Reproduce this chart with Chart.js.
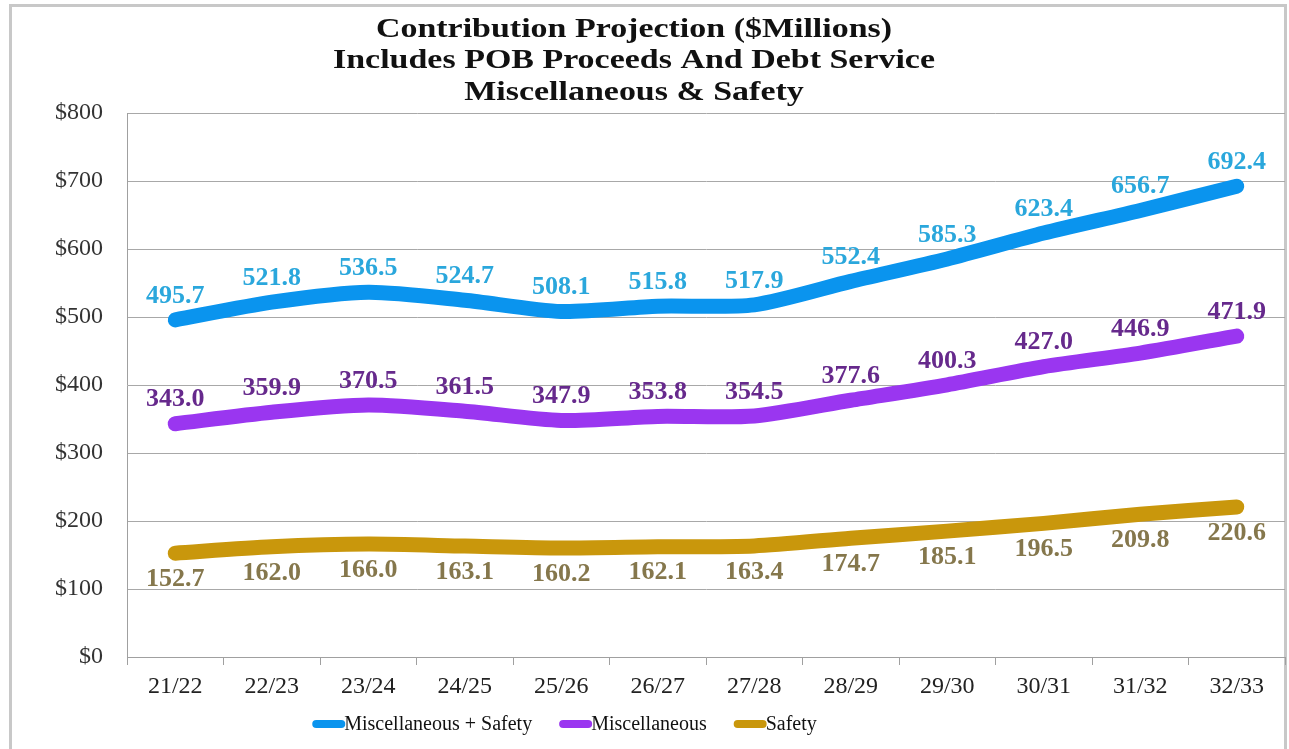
<!DOCTYPE html>
<html>
<head>
<meta charset="utf-8">
<script src="https://cdn.jsdelivr.net/npm/chart.js@4/dist/chart.umd.min.js"></script>
<style>
  html, body { margin: 0; padding: 0; background: #ffffff; }
  #wrap { position: absolute; left: 0; top: 0; width: 1289px; height: 749px; }
</style>
</head>
<body>
<div id="wrap"><canvas id="c" width="1289" height="749"></canvas></div>
<script>
const categories = ['21/22','22/23','23/24','24/25','25/26','26/27','27/28','28/29','29/30','30/31','31/32','32/33'];
const miscPlusSafety = [495.7, 521.8, 536.5, 524.7, 508.1, 515.8, 517.9, 552.4, 585.3, 623.4, 656.7, 692.4];
const miscellaneous  = [343.0, 359.9, 370.5, 361.5, 347.9, 353.8, 354.5, 377.6, 400.3, 427.0, 446.9, 471.9];
const safety         = [152.7, 162.0, 166.0, 163.1, 160.2, 162.1, 163.4, 174.7, 185.1, 196.5, 209.8, 220.6];
const seriesNames = ['Miscellaneous + Safety', 'Miscellaneous', 'Safety'];
const titleLines = ['Contribution Projection ($Millions)', 'Includes POB Proceeds And Debt Service', 'Miscellaneous & Safety'];
const yTickValues = [0, 100, 200, 300, 400, 500, 600, 700, 800];

const SERIF = "'Liberation Serif', 'Times New Roman', serif";

const lineColors  = ['#0a94ee', '#9a36f0', '#c9970c'];
const labelColors = ['#2aa7dc', '#66298c', '#85774c'];
const labelOffsets = [-24, -24, 26];

const decorations = {
  id: 'decorations',
  beforeDraw(chart) {
    const ctx = chart.ctx;
    ctx.save();
    ctx.fillStyle = '#ffffff';
    ctx.fillRect(0, 0, chart.width, chart.height);
    ctx.strokeStyle = '#c8c8c8';
    ctx.lineWidth = 3;
    ctx.strokeRect(10.5, 5.5, 1275, 760);
    // title (horizontally stretched serif, as in the source image)
    const lines = chart.options.plugins.title.text;
    ctx.fillStyle = '#111111';
    ctx.font = 'bold 27px ' + SERIF;
    ctx.textAlign = 'center';
    ctx.textBaseline = 'alphabetic';
    const w2 = ctx.measureText(lines[1]).width;
    const sx = 602 / w2;
    const baselines = [37, 68, 100];
    lines.forEach((t, i) => {
      ctx.save();
      ctx.translate(634, baselines[i]);
      ctx.scale(sx, 1);
      ctx.fillText(t, 0, 0);
      ctx.restore();
    });
    ctx.restore();
  },
  afterDatasetsDraw(chart) {
    const ctx = chart.ctx;
    ctx.save();
    // data labels
    ctx.font = 'bold 26px ' + SERIF;
    ctx.textAlign = 'center';
    ctx.textBaseline = 'middle';
    chart.data.datasets.forEach((ds, i) => {
      const meta = chart.getDatasetMeta(i);
      ctx.fillStyle = labelColors[i];
      meta.data.forEach((pt, j) => {
        ctx.fillText(ds.data[j].toFixed(1), pt.x, pt.y + labelOffsets[i]);
      });
    });
    // legend
    ctx.font = '20px ' + SERIF;
    ctx.textAlign = 'left';
    const sw = 31, gap = 26;
    const widths = chart.data.datasets.map(ds => ctx.measureText(ds.label).width);
    const total = widths.reduce((a, w) => a + sw + 2 + w, 0) + gap * (widths.length - 1);
    let x = 565 - total / 2;
    const y = 724;
    chart.data.datasets.forEach((ds, i) => {
      ctx.strokeStyle = lineColors[i];
      ctx.lineWidth = 8;
      ctx.lineCap = 'round';
      ctx.beginPath();
      ctx.moveTo(x + 4, y);
      ctx.lineTo(x + sw - 2, y);
      ctx.stroke();
      ctx.fillStyle = '#111111';
      ctx.fillText(ds.label, x + sw + 1, y + 1);
      x += sw + 2 + widths[i] + gap;
    });
    ctx.restore();
  }
};

new Chart(document.getElementById('c'), {
  type: 'line',
  data: {
    labels: categories,
    datasets: [
      { label: seriesNames[0], data: miscPlusSafety, borderColor: lineColors[0], backgroundColor: lineColors[0] },
      { label: seriesNames[1], data: miscellaneous,  borderColor: lineColors[1], backgroundColor: lineColors[1] },
      { label: seriesNames[2], data: safety,         borderColor: lineColors[2], backgroundColor: lineColors[2] }
    ]
  },
  options: {
    responsive: false,
    animation: false,
    devicePixelRatio: 1,
    layout: { padding: { left: 0, right: 4, top: 113, bottom: 51 } },
    elements: {
      line: { borderWidth: 15, tension: 0.25, borderCapStyle: 'round', borderJoinStyle: 'round', fill: false },
      point: { radius: 0, hoverRadius: 0 }
    },
    plugins: {
      legend: { display: false },
      tooltip: { enabled: false },
      title: { display: false, text: titleLines }
    },
    scales: {
      x: {
        offset: true,
        grid: { display: true, drawOnChartArea: false, drawTicks: true, tickLength: 8, offset: true, color: '#a0a0a0' },
        border: { display: true, color: '#a0a0a0', width: 1 },
        ticks: { color: '#222222', font: { family: SERIF, size: 24 }, padding: 7, maxRotation: 0 },
        afterFit(scale) { scale.height = 41; }
      },
      y: {
        min: 0, max: 800,
        afterBuildTicks(scale) { scale.ticks = yTickValues.map(v => ({ value: v })); },
        grid: { color: '#a8a8a8', drawTicks: false, lineWidth: 1 },
        border: { display: true, color: '#a0a0a0', width: 1 },
        ticks: { color: '#333333', font: { family: SERIF, size: 24 }, padding: 24, callback: v => '$' + v },
        afterFit(scale) { scale.width = 127; }
      }
    }
  },
  plugins: [decorations]
});
</script>
</body>
</html>
